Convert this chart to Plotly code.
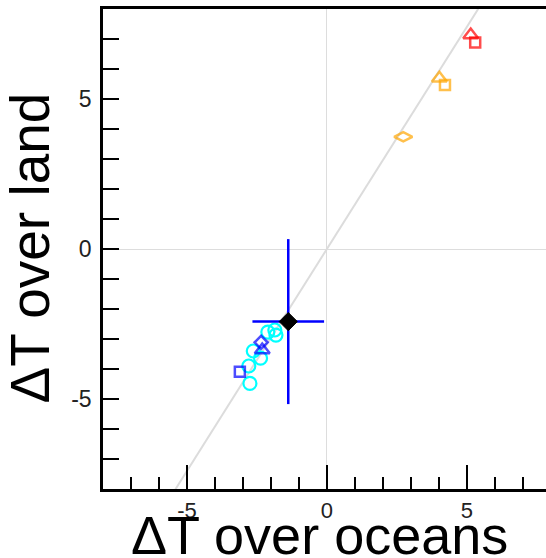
import plotly.graph_objects as go

# ---- data ----
red_x = [5.14, 5.30]
red_y = [7.13, 6.88]
red_sym = ["triangle-up-open", "square-open"]

orange_x = [4.02, 4.22, 2.73]
orange_y = [5.69, 5.47, 3.74]
orange_sym = ["triangle-up-open", "square-open", "diamond-wide-open"]

blue_x = [-2.35, -2.31, -3.11]
blue_y = [-3.11, -3.37, -4.09]
blue_sym = ["diamond-open", "triangle-up-open", "square-open"]

cyan_x = [-2.11, -1.86, -1.82, -2.63, -2.37, -2.79, -2.75]
cyan_y = [-2.77, -2.70, -2.87, -3.40, -3.64, -3.90, -4.48]

obs_x = [-1.38]
obs_y = [-2.42]
obs_err_x = [1.28]
obs_err_y = [2.75]

diag_x = [-8, 8]
diag_slope = 1.48

xticks = [-5, 0, 5]
yticks = [-5, 0, 5]

FONT = "Liberation Sans, Arial, sans-serif"

fig = go.Figure()

fig.add_trace(go.Scatter(x=diag_x, y=[diag_slope * v for v in diag_x], mode="lines",
                         line=dict(color="#dcdcdc", width=2), hoverinfo="skip"))

SIZES = {"square-open": 10, "triangle-up-open": 13, "diamond-open": 10, "diamond-wide-open": 13}

fig.add_trace(go.Scatter(x=red_x, y=red_y, mode="markers",
                         marker=dict(symbol=red_sym, size=[SIZES[s] for s in red_sym],
                                     color="red", line=dict(color="red", width=2.5))))
fig.add_trace(go.Scatter(x=orange_x, y=orange_y, mode="markers",
                         marker=dict(symbol=orange_sym, size=[SIZES[s] for s in orange_sym],
                                     color="#ffa500", line=dict(color="#ffa500", width=2.5))))
fig.add_trace(go.Scatter(x=cyan_x, y=cyan_y, mode="markers",
                         marker=dict(symbol="circle-open", size=13,
                                     color="cyan", line=dict(color="cyan", width=2.2))))
fig.add_trace(go.Scatter(x=blue_x, y=blue_y, mode="markers",
                         marker=dict(symbol=blue_sym, size=[SIZES[s] for s in blue_sym],
                                     color="blue", line=dict(color="blue", width=2.5))))
fig.add_trace(go.Scatter(x=obs_x, y=obs_y, mode="markers",
                         error_x=dict(type="data", array=obs_err_x, color="blue", thickness=2.5, width=0),
                         error_y=dict(type="data", array=obs_err_y, color="blue", thickness=2.5, width=0),
                         marker=dict(symbol="diamond", size=14, color="black",
                                     line=dict(color="black", width=1))))

fig.update_layout(
    width=546, height=558,
    margin=dict(l=103, r=0, t=9, b=69),
    paper_bgcolor="white", plot_bgcolor="white",
    showlegend=False,
    font=dict(family=FONT, color="#222222"),
    xaxis=dict(range=[-8, 7.83], showgrid=False, zeroline=True, zerolinecolor="#dddddd",
               zerolinewidth=1, showline=True, linecolor="black", linewidth=2.5, mirror=True,
               ticks="inside", ticklen=24, tickwidth=2, tickcolor="black",
               tickvals=xticks, ticktext=[str(v) for v in xticks],
               tickfont=dict(size=22, family=FONT, color="#222222"),
               minor=dict(ticks="inside", ticklen=12, tickwidth=2, tickcolor="black", dtick=1, showgrid=False)),
    yaxis=dict(range=[-8, 8], showgrid=False, zeroline=True, zerolinecolor="#dddddd",
               zerolinewidth=1, showline=True, linecolor="black", linewidth=2.5, mirror=False,
               ticks="inside", ticklen=16, tickwidth=2, tickcolor="black",
               tickvals=yticks, ticktext=[str(v) for v in yticks],
               ticklabelstandoff=4,
               tickfont=dict(size=23, family=FONT, color="#222222"),
               minor=dict(ticks="inside", ticklen=16, tickwidth=2, tickcolor="black", dtick=1, showgrid=False)),
    annotations=[
        dict(text="ΔT over oceans", xref="paper", yref="paper", x=0.488, y=-0.03,
             xanchor="center", yanchor="top", showarrow=False,
             font=dict(size=54, family=FONT, color="black")),
        dict(text="ΔT over land", xref="paper", yref="paper", x=-0.165, y=0.503,
             xanchor="center", yanchor="middle", textangle=-90, showarrow=False,
             font=dict(size=55, family=FONT, color="black")),
    ],
)

fig.write_html("out.html")
